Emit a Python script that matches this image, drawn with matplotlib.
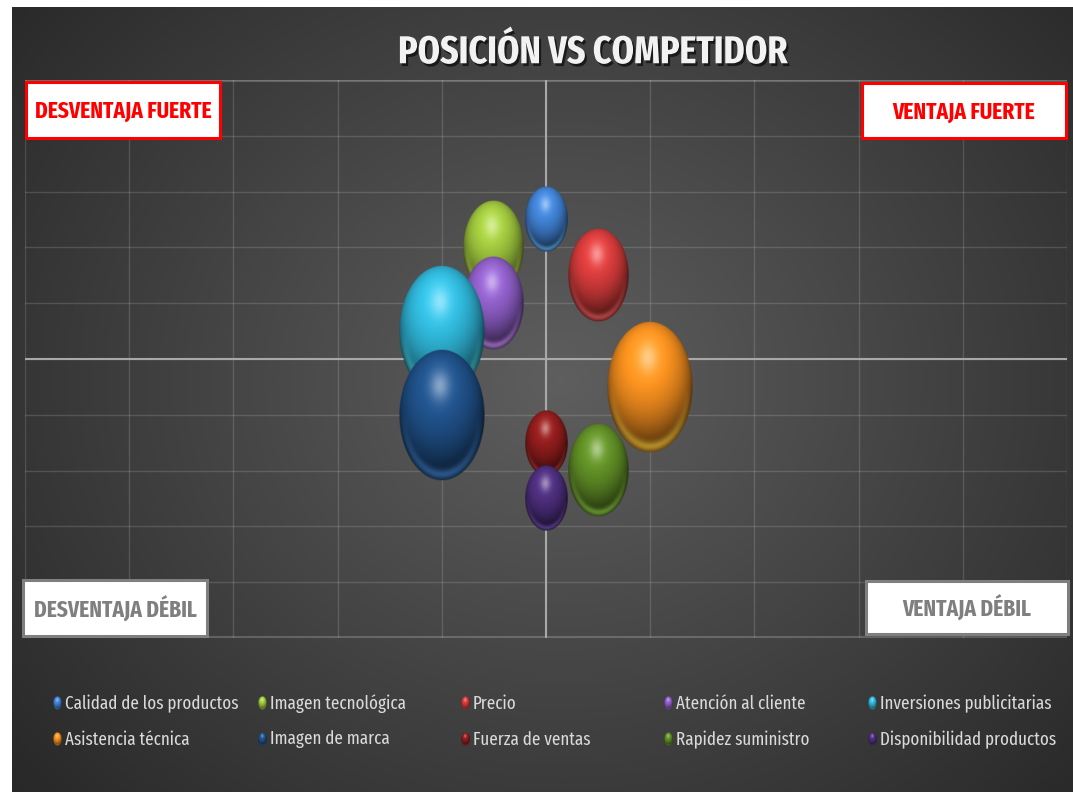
"""
Mapa de posición frente al competidor: burbujas por factor sobre cuadrantes.
"""

import numpy as np
import matplotlib.pyplot as plt
import matplotlib.patheffects as pe
from matplotlib.colors import to_rgb
from matplotlib.patches import Rectangle

plt.rcParams['font.family'] = ['Fira Sans Extra Condensed', 'Fira Sans Condensed',
                               'Open Sans', 'DejaVu Sans']

factores = ['Calidad de los productos', 'Imagen tecnológica', 'Precio',
            'Atención al cliente', 'Inversiones publicitarias', 'Asistencia técnica',
            'Imagen de marca', 'Fuerza de ventas', 'Rapidez suministro',
            'Disponibilidad productos']
pos_x = [0.0, -0.5, 0.5, -0.5, -1.0, 1.0, -1.0, 0.0, 0.5, 0.0]
pos_y = [2.5, 2.0, 1.5, 1.0, 0.5, -0.5, -1.0, -1.5, -2.0, -2.5]
tamano = [1, 2, 2, 2, 4, 4, 4, 1, 2, 1]
colores = ['#3f7fcf', '#9cc23c', '#d23a3a', '#8b5cc2', '#2fb4d6',
           '#f08c1e', '#1f4f86', '#8e1c1c', '#5e8b25', '#4b2d7a']

W, H = 1073, 792


def esfera(color, n=160):
    """RGBA image of a shaded sphere, used for the bubbles and legend keys"""
    u = np.linspace(-1, 1, n)
    X, Y = np.meshgrid(u, u)
    r = np.sqrt(X**2 + Y**2)
    z = np.sqrt(np.clip(1 - r**2, 0, 1))
    luz = np.array([-0.1, 0.5, 0.86])
    luz = luz / np.linalg.norm(luz)
    dif = np.clip(X * luz[0] + Y * luz[1] + z * luz[2], 0, 1)
    base = np.array(to_rgb(color))
    rgb = base * (0.35 + 0.8 * dif)[..., None]
    brillo = np.exp(-((X + 0.05)**2 + (Y - 0.45)**2) / 0.05) * 0.45
    rgb = rgb + (1 - rgb) * brillo[..., None]
    # light bounced on the lower rim
    borde = np.exp(-(r - 0.9)**2 / 0.006) * np.clip(-Y, 0, 1)
    claro = np.minimum(base * 1.35 + 0.1, 1)
    rgb = rgb * (1 - 0.6 * borde[..., None]) + claro * 0.6 * borde[..., None]
    rgb = np.clip(rgb, 0, 1)
    alpha = np.clip((1 - r) * n / 2, 0, 1)
    return np.dstack([rgb, alpha])


fig = plt.figure(figsize=(W / 100, H / 100), dpi=100)
fig.patch.set_facecolor('white')

# dark radial background
bg = fig.add_axes([0, 0, 1, 1], zorder=0)
bg.set_xlim(0, W)
bg.set_ylim(H, 0)
bg.axis('off')
gx, gy = np.meshgrid(np.arange(12, W), np.arange(7, H))
d = np.sqrt(((gx - 560) / 640.0)**2 + ((gy - 380) / 560.0)**2)
val = np.clip(0.37 - 0.19 * d, 0.15, 1)
bg.imshow(np.dstack([val, val, val]), extent=[12, W, H, 7], aspect='auto')

# plot area
ax = fig.add_axes([25 / W, (H - 638) / H, 1042 / W, 558 / H], zorder=1)
ax.set_facecolor('none')
ax.set_xlim(-5, 5)
ax.set_ylim(-5, 5)
ax.set_xticks(np.arange(-5, 6, 1))
ax.set_yticks(np.arange(-5, 6, 1))
ax.tick_params(length=0, labelbottom=False, labelleft=False)
ax.grid(True, color='white', alpha=0.14, lw=1)
for s in ax.spines.values():
    s.set_visible(False)
ax.axhline(5, color='white', alpha=0.18, lw=3)
ax.axhline(-5, color='white', alpha=0.18, lw=3)
ax.axhline(0, color='#a8a8a8', lw=1.5)
ax.axvline(0, color='#a8a8a8', lw=1.5)

# bubble diameter in px for size 1 (slightly taller than wide)
px_w, px_h = 43, 66
ux, uy = 10 / 1042, 10 / 558
for i in range(len(factores)):
    k = np.sqrt(tamano[i])
    w = px_w * k * ux
    h = px_h * k * uy
    ax.imshow(esfera(colores[i]), origin='lower', aspect='auto',
              extent=[pos_x[i] - w / 2, pos_x[i] + w / 2, pos_y[i] - h / 2, pos_y[i] + h / 2],
              zorder=3 + i, interpolation='bilinear')
ax.set_xlim(-5, 5)
ax.set_ylim(-5, 5)

# overlay in pixel coords for title, quadrant boxes and legend
ov = fig.add_axes([0, 0, 1, 1], zorder=2)
ov.set_facecolor('none')
ov.set_xlim(0, W)
ov.set_ylim(H, 0)
ov.axis('off')

ov.text(593, 53, 'POSICIÓN VS COMPETIDOR', ha='center', va='center',
        fontsize=28, fontweight='bold', color='#f2f2f2',
        path_effects=[pe.withSimplePatchShadow(offset=(1.5, -2), shadow_rgbFace='black', alpha=0.6)])

cajas = [
    (26, 82, 194, 56, 'DESVENTAJA FUERTE', '#ff0000'),
    (862, 83, 204, 55, 'VENTAJA FUERTE', '#ff0000'),
    (23, 580, 184, 56, 'DESVENTAJA DÉBIL', '#7f7f7f'),
    (866, 581, 202, 53, 'VENTAJA DÉBIL', '#7f7f7f'),
]
for x0, y0, cw, ch, txt, col in cajas:
    ov.add_patch(Rectangle((x0, y0), cw, ch, facecolor='white', edgecolor=col, lw=2.2))
    ov.text(x0 + cw / 2, y0 + ch / 2 + 1, txt, ha='center', va='center',
            fontsize=16.7, fontweight='bold', color=col)

# legend, filled row by row
col_x = [57, 262, 465, 668, 872]
fila_y = [703, 739]
for i, nombre in enumerate(factores):
    mx = col_x[i % 5]
    my = fila_y[i // 5]
    ov.imshow(esfera(colores[i], n=40), origin='lower', aspect='auto',
              extent=[mx - 4.5, mx + 4.5, my + 7, my - 7], zorder=5, interpolation='bilinear')
    ov.text(mx + 8, my + 0.5, nombre, ha='left', va='center', fontsize=13.3, color='#d9d9d9')
ov.set_xlim(0, W)
ov.set_ylim(H, 0)

plt.savefig('out.png', dpi=100, facecolor=fig.get_facecolor())
